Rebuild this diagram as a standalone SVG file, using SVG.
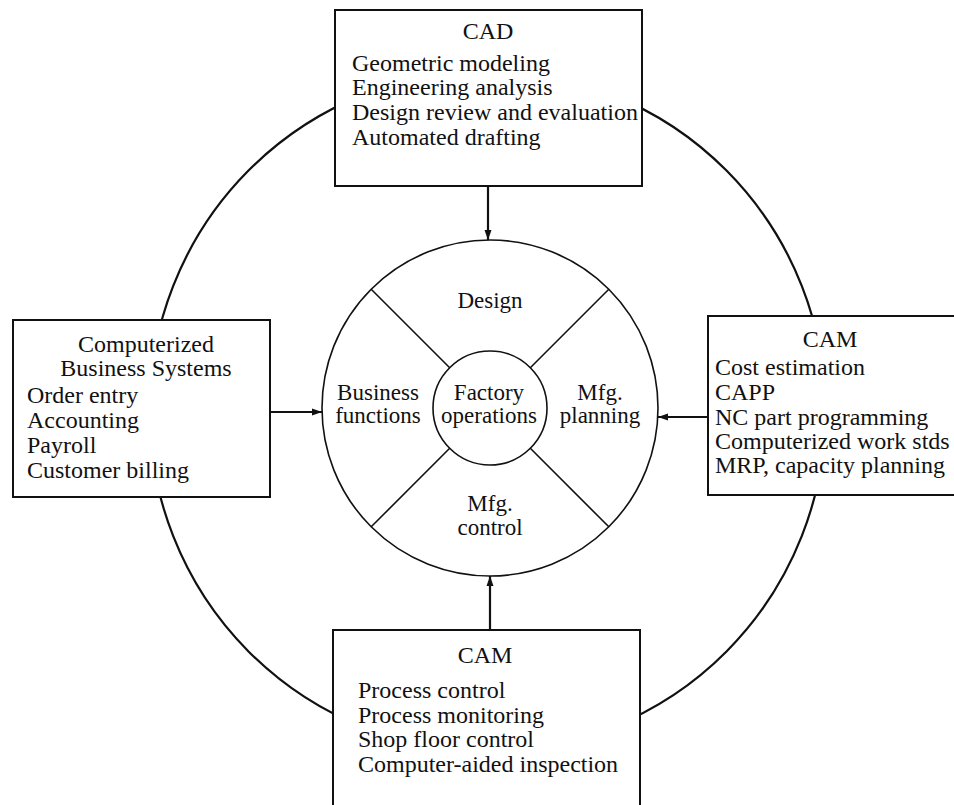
<svg xmlns="http://www.w3.org/2000/svg" width="954" height="805" viewBox="0 0 954 805">
<style>
.t{font-family:"Liberation Serif","Times New Roman",serif;font-size:24px;fill:#111}
.r{font-size:23px}
.c{text-anchor:middle}
.box{fill:#fff;stroke:#111;stroke-width:2}
.ln{fill:none;stroke:#111;stroke-width:2.2}
.thin{fill:none;stroke:#111;stroke-width:1.6}
</style>
<defs>
<marker id="ah" viewBox="0 0 10 10" refX="10" refY="5" markerWidth="10" markerHeight="10" markerUnits="userSpaceOnUse" orient="auto">
<path d="M0,1.5 L10,5 L0,8.5 Z" fill="#111"/>
</marker>
</defs>
<rect width="954" height="805" fill="#fff"/>
<g id="outer-circle">
<ellipse cx="487.5" cy="411" rx="338" ry="340" class="ln"/>
</g>
<g id="factory-wheel">
<circle cx="490" cy="408" r="168" class="thin" fill="#fff"/>
<circle cx="490" cy="408" r="57" class="thin"/>
<line x1="371.2" y1="289.2" x2="449.7" y2="367.7" class="thin"/>
<line x1="608.8" y1="289.2" x2="530.3" y2="367.7" class="thin"/>
<line x1="371.2" y1="526.8" x2="449.7" y2="448.3" class="thin"/>
<line x1="608.8" y1="526.8" x2="530.3" y2="448.3" class="thin"/>
<text class="t r c" x="490" y="308">Design</text>
<text class="t r c" x="378" y="400">Business</text>
<text class="t r c" x="378" y="423">functions</text>
<text class="t r c" x="489" y="400">Factory</text>
<text class="t r c" x="489" y="423">operations</text>
<text class="t r c" x="600" y="400">Mfg.</text>
<text class="t r c" x="600" y="423">planning</text>
<text class="t r c" x="490" y="511">Mfg.</text>
<text class="t r c" x="490" y="535">control</text>
</g>
<g id="cad">
<rect x="335" y="10" width="307" height="176" class="box"/>
<text class="t c" x="488" y="39">CAD</text>
<text class="t" x="352" y="71">Geometric modeling</text>
<text class="t" x="352" y="95">Engineering analysis</text>
<text class="t" x="352" y="120">Design review and evaluation</text>
<text class="t" x="352" y="145">Automated drafting</text>
</g>
<g id="business">
<rect x="13" y="320" width="257" height="177" class="box"/>
<text class="t c" x="146" y="352">Computerized</text>
<text class="t c" x="146" y="376">Business Systems</text>
<text class="t" x="27" y="403">Order entry</text>
<text class="t" x="27" y="428">Accounting</text>
<text class="t" x="27" y="453">Payroll</text>
<text class="t" x="27" y="478">Customer billing</text>
</g>
<g id="cam-planning">
<rect x="708" y="316" width="260" height="179" class="box"/>
<text class="t c" x="830" y="347">CAM</text>
<text class="t" x="715" y="375">Cost estimation</text>
<text class="t" x="715" y="400">CAPP</text>
<text class="t" x="715" y="425">NC part programming</text>
<text class="t" x="715" y="449">Computerized work stds</text>
<text class="t" x="715" y="473">MRP, capacity planning</text>
</g>
<g id="cam-control">
<rect x="333" y="630" width="307" height="190" class="box"/>
<text class="t c" x="485" y="663">CAM</text>
<text class="t" x="358" y="698">Process control</text>
<text class="t" x="358" y="723">Process monitoring</text>
<text class="t" x="358" y="747">Shop floor control</text>
<text class="t" x="358" y="772">Computer-aided inspection</text>
</g>
<g id="connectors">
<line x1="488" y1="186" x2="488" y2="240" class="ln" marker-end="url(#ah)"/>
<line x1="270" y1="412" x2="322" y2="412" class="ln" marker-end="url(#ah)"/>
<line x1="708" y1="417" x2="658" y2="417" class="ln" marker-end="url(#ah)"/>
<line x1="490" y1="630" x2="490" y2="576" class="ln" marker-end="url(#ah)"/>
</g>
</svg>
